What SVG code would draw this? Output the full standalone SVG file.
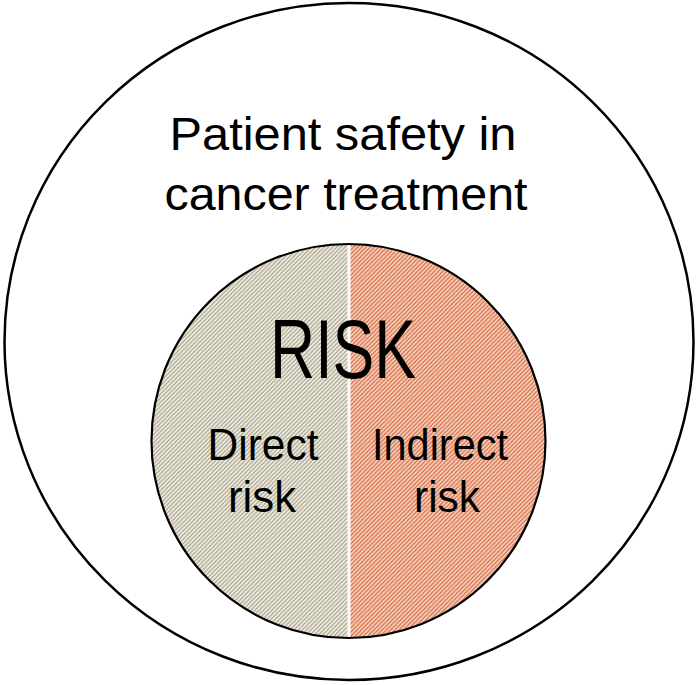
<svg xmlns="http://www.w3.org/2000/svg" width="700" height="685" viewBox="0 0 700 685">
<style>
.t{font-family:"Liberation Sans",Arial,sans-serif;fill:#000;text-anchor:middle}
</style>
<defs>
<pattern id="hatchL" patternUnits="userSpaceOnUse" width="4.2" height="4.2">
<rect width="4.2" height="4.2" fill="#f0ede3"/>
<path d="M-1,1 L1,-1 M0,4.2 L4.2,0 M3.2,5.2 L5.2,3.2" stroke="#a49e86" stroke-width="1.1"/>
</pattern>
<pattern id="hatchR" patternUnits="userSpaceOnUse" width="4.2" height="4.2">
<rect width="4.2" height="4.2" fill="#fbcfb9"/>
<path d="M-1,1 L1,-1 M0,4.2 L4.2,0 M3.2,5.2 L5.2,3.2" stroke="#cc6844" stroke-width="1.1"/>
</pattern>
<clipPath id="clipL"><rect x="0" y="0" width="347.5" height="685"/></clipPath>
<clipPath id="clipR"><rect x="350.5" y="0" width="350" height="685"/></clipPath>
</defs>
<g id="outer">
<ellipse cx="349" cy="341.5" rx="344.5" ry="338.5" fill="#fff" stroke="#000" stroke-width="2.5"/>
<text class="t" x="343" y="150" font-size="46" textLength="347" lengthAdjust="spacingAndGlyphs">Patient safety in</text>
<text class="t" x="346" y="210" font-size="46" textLength="363" lengthAdjust="spacingAndGlyphs">cancer treatment</text>
</g>
<g id="risk">
<circle cx="348.5" cy="441" r="197" fill="url(#hatchL)" clip-path="url(#clipL)"/>
<circle cx="348.5" cy="441" r="197" fill="url(#hatchR)" clip-path="url(#clipR)"/>
<circle cx="348.5" cy="441" r="197" fill="none" stroke="#000" stroke-width="2.2"/>
<text class="t" x="343" y="378" font-size="84" textLength="146" lengthAdjust="spacingAndGlyphs">RISK</text>
</g>
<g id="direct">
<text class="t" x="263" y="460" font-size="44" textLength="111" lengthAdjust="spacingAndGlyphs">Direct</text>
<text class="t" x="262" y="512" font-size="44" textLength="68" lengthAdjust="spacingAndGlyphs">risk</text>
</g>
<g id="indirect">
<text class="t" x="440" y="460" font-size="44" textLength="136" lengthAdjust="spacingAndGlyphs">Indirect</text>
<text class="t" x="447" y="512" font-size="44" textLength="66" lengthAdjust="spacingAndGlyphs">risk</text>
</g>
</svg>
